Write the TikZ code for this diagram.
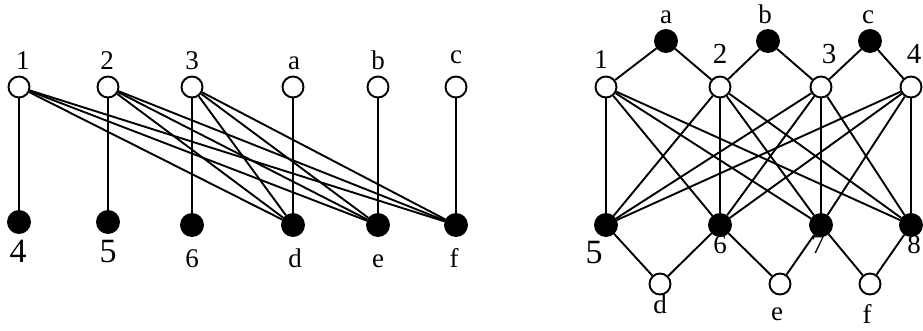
\documentclass[tikz,border=0pt]{standalone}
\usepackage{fontspec}
\setmainfont{Liberation Serif}
\begin{document}
\begin{tikzpicture}[x=1pt,y=-1pt,
  opn/.style={circle,draw,line width=1.9pt,fill=white,minimum size=21pt,inner sep=0pt},
  fil/.style={circle,draw,line width=1.9pt,fill=black,minimum size=22pt,inner sep=0pt},
  lbl/.style={anchor=base,inner sep=0pt,font=\fontsize{27}{31}\selectfont},
  big/.style={anchor=base,inner sep=0pt,font=\fontsize{34}{38}\selectfont},
  mid/.style={anchor=base,inner sep=0pt,font=\fontsize{29}{33}\selectfont},
  edge/.style={line width=1.9pt}]
\useasboundingbox (0,0) rectangle (923,330);
% ---------- left graph ----------
\node[opn] (L1) at (19,87) {};
\node[opn] (L2) at (108,87) {};
\node[opn] (L3) at (192,87) {};
\node[opn] (La) at (293,87) {};
\node[opn] (Lb) at (378,87) {};
\node[opn] (Lc) at (456,87) {};
\node[fil] (L4) at (19,222) {};
\node[fil] (L5) at (108,222) {};
\node[fil] (L6) at (192,225) {};
\node[fil] (Ld) at (293,225) {};
\node[fil] (Le) at (378,225) {};
\node[fil] (Lf) at (456,225) {};
\node[lbl] (tL1) at (23,69) {1};
\node[lbl] (tL2) at (107,69) {2};
\node[lbl] (tL3) at (192,69) {3};
\node[lbl] (tLa) at (294,69) {a};
\node[lbl] (tLb) at (378,69) {b};
\node[lbl] (tLc) at (456,63) {c};
\node[big] (tL4) at (18,262) {4};
\node[big] (tL5) at (108,262) {5};
\node[lbl] (tL6) at (192,267) {6};
\node[lbl] (tLd) at (295,267) {d};
\node[lbl] (tLe) at (378,267) {e};
\node[lbl] (tLf) at (454,267) {f};
\foreach \s/\t in {L1/L4,L2/L5,L3/L6,La/Ld,Lb/Le,Lc/Lf,
  L1/Ld,L1/Le,L1/Lf,L2/Ld,L2/Le,L2/Lf,L3/Ld,L3/Le,L3/Lf}
  \draw[edge] (\s) -- (\t);
% ---------- right graph ----------
\node[fil] (Ra) at (666,41) {};
\node[fil] (Rb) at (768,41) {};
\node[fil] (Rc) at (870,41) {};
\node[opn] (R1) at (606,87) {};
\node[opn] (R2) at (720,87) {};
\node[opn] (R3) at (821,87) {};
\node[opn] (R4) at (911,87) {};
\node[fil] (R5) at (606,225) {};
\node[fil] (R6) at (720,225) {};
\node[fil] (R7) at (821,225) {};
\node[fil] (R8) at (911,225) {};
\node[opn] (Rd) at (660,284) {};
\node[opn] (Re) at (780,284) {};
\node[opn] (Rf) at (870,284) {};
\node[lbl] (tRa) at (666,23) {a};
\node[lbl] (tRb) at (765,23) {b};
\node[lbl] (tRc) at (868,23) {c};
\node[lbl] (tR1) at (601,68) {1};
\node[mid] (tR2) at (720,63) {2};
\node[mid] (tR3) at (829,63) {3};
\node[mid] (tR4) at (914,63) {4};
\node[big] (tR5) at (594,263) {5};
\node[lbl] (tR6) at (720,253) {6};
\node[lbl] (tR7) at (818,253) {7};
\node[lbl] (tR8) at (914,253) {8};
\node[lbl] (tRd) at (660,313) {d};
\node[lbl] (tRe) at (777,320) {e};
\node[lbl] (tRf) at (867,323) {f};
\foreach \s/\t in {Ra/R1,Ra/R2,Rb/R2,Rb/R3,Rc/R3,Rc/R4,
  R5/Rd,R6/Rd,R6/Re,R7/Re,R7/Rf,R8/Rf}
  \draw[edge] (\s) -- (\t);
\foreach \s in {R1,R2,R3,R4}
  \foreach \t in {R5,R6,R7,R8}
    \draw[edge] (\s) -- (\t);
\end{tikzpicture}
\end{document}
